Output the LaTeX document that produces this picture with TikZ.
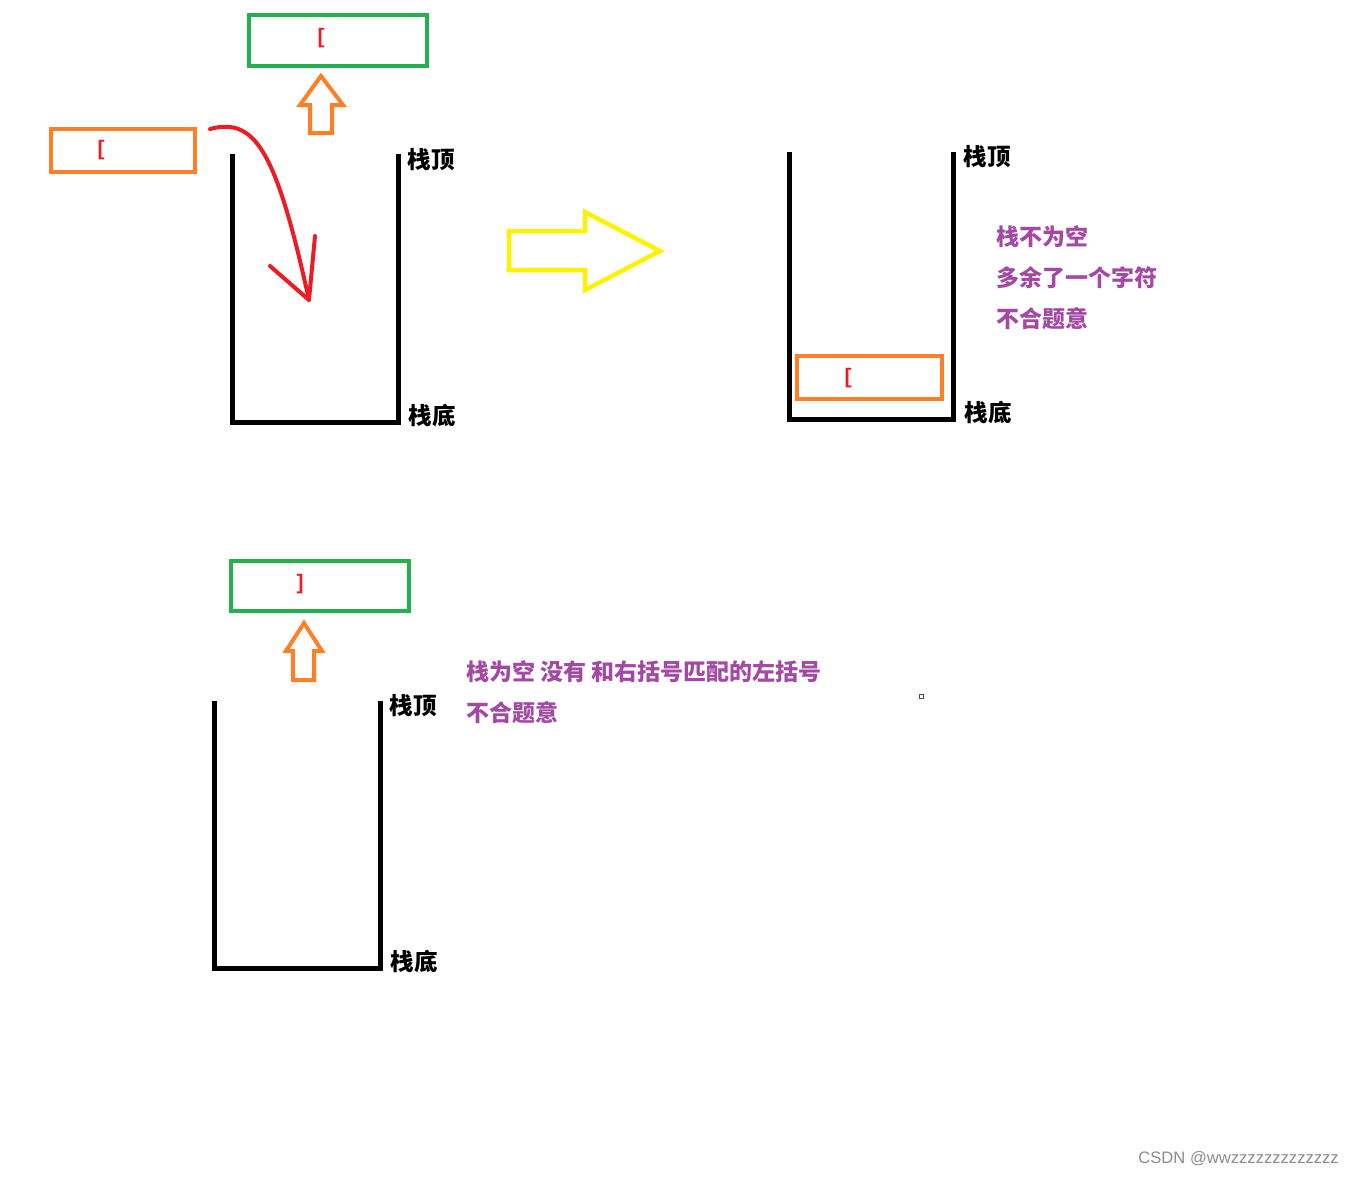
\documentclass[tikz,border=0pt]{standalone}
\usepackage{fontspec}
\setmainfont{Liberation Sans}
\newfontfamily\cjk{Noto Sans CJK SC}
\definecolor{pgreen}{HTML}{22B14C}
\definecolor{porange}{HTML}{FF7F27}
\definecolor{pyellow}{HTML}{FFF200}
\definecolor{pred}{HTML}{ED1C24}
\definecolor{ppurple}{HTML}{A349A4}
\tikzset{
  gbox/.style={draw=pgreen,line width=4.5pt,minimum width=178pt,minimum height=51pt,inner sep=0pt},
  obox/.style={draw=porange,line width=4.5pt,minimum width=144pt,minimum height=43pt,inner sep=0pt},
  brk/.style={text=pred,font=\bfseries\fontsize{21}{23}\selectfont,inner sep=0pt},
  lbl/.style={font=\cjk\bfseries\fontsize{23.5}{25}\selectfont,inner sep=0pt},
  note/.style={font=\cjk\bfseries\fontsize{23}{25}\selectfont,text=ppurple,inner sep=0pt,anchor=west},
  wall/.style={line width=5pt,line cap=rect,line join=miter},
  uparrow/.style={draw=porange,line width=4pt,line join=miter},
  bigarrow/.style={draw=pyellow,line width=4.5pt,line join=miter},
  redline/.style={draw=pred,line width=4pt,line cap=round,line join=round}
}
\begin{document}
\begin{tikzpicture}[x=1pt,y=-1pt]
\useasboundingbox[fill=white] (0,0) rectangle (1355,1176);

% ---------- top-left scene ----------
\node[gbox] (g1) at (338,40.5) {};
\node[brk] (g1b) at (321,38) {[};
\draw[uparrow] (321,76) -- (343,105) -- (332,105) -- (332,133) -- (310,133) -- (310,105) -- (300,105) -- cycle;
\node[obox] (o1) at (123,150.5) {};
\node[brk] (o1b) at (101,150) {[};

\coordinate (s1tl) at (232,156);
\coordinate (s1bl) at (232,422);
\coordinate (s1br) at (398,422);
\coordinate (s1tr) at (398,156);
\draw[wall] (s1tl) -- (s1bl) -- (s1br) -- (s1tr);
\node[lbl] (s1top) at (431,160) {栈顶};
\node[lbl] (s1bot) at (432,415) {栈底};

\coordinate (rs) at (210,129);
\coordinate (re) at (309,300);
\draw[redline] (rs) .. controls (255,117) and (276,150) .. (re);
\draw[redline] (270,266) -- (re) -- (315,236);

% ---------- yellow arrow ----------
\draw[bigarrow] (509,231) -- (585,231) -- (585,212) -- (660,251) -- (585,290) -- (585,270) -- (509,270) -- cycle;

% ---------- top-right scene ----------
\coordinate (s2tl) at (789,154);
\coordinate (s2bl) at (789,419);
\coordinate (s2br) at (953,419);
\coordinate (s2tr) at (953,154);
\draw[wall] (s2tl) -- (s2bl) -- (s2br) -- (s2tr);
\node[obox,minimum width=145pt] (o2) at (869.5,377.5) {};
\node[brk] (o2b) at (848,378) {[};
\node[lbl] (s2top) at (987,157) {栈顶};
\node[lbl] (s2bot) at (988,412) {栈底};
\node[note] (n1) at (996,237) {栈不为空};
\node[note] (n2) at (996,278) {多余了一个字符};
\node[note] (n3) at (996,319) {不合题意};

% ---------- bottom scene ----------
\node[gbox,minimum height=50pt] (g2) at (320,586) {};
\node[brk] (g2b) at (300,584) {]};
\draw[uparrow] (304,623) -- (322,651) -- (314,651) -- (314,680) -- (293,680) -- (293,651) -- (286,651) -- cycle;

\coordinate (s3tl) at (214,703);
\coordinate (s3bl) at (214,968);
\coordinate (s3br) at (380,968);
\coordinate (s3tr) at (380,703);
\draw[wall] (s3tl) -- (s3bl) -- (s3br) -- (s3tr);
\node[lbl] (s3top) at (413,706) {栈顶};
\node[lbl] (s3bot) at (414,961) {栈底};
\node[note] (n4) at (466,672) {栈为空 没有 和右括号匹配的左括号};
\node[note] (n5) at (466,713) {不合题意};

\node[draw=black!70,line width=1pt,minimum size=4pt,inner sep=0pt] (dot) at (921.5,696.5) {};

\node[text=black!45,font=\fontsize{16.6}{18}\selectfont,anchor=east,inner sep=0pt] (wm) at (1339,1159) {CSDN @wwzzzzzzzzzzzzz};
\end{tikzpicture}
\end{document}
